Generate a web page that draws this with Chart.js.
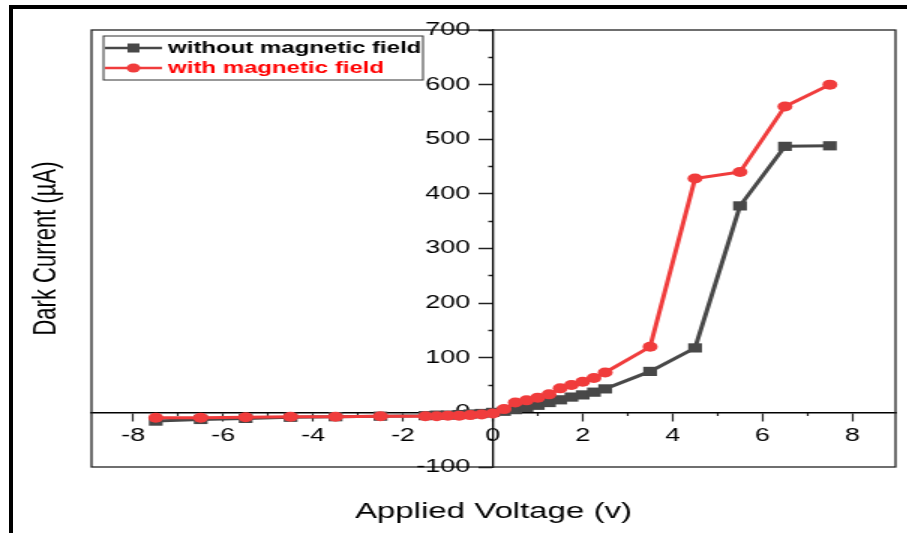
<!DOCTYPE html>
<html>
<head>
<meta charset="utf-8">
<script src="https://cdn.jsdelivr.net/npm/chart.js@4.4.1/dist/chart.umd.min.js"></script>
<style>
  html, body { margin: 0; padding: 0; background: #fff; overflow: hidden; }
  #wrap { position: relative; width: 907px; height: 533px; }
  #frame { position: absolute; left: 9px; top: 5px; right: 0; bottom: 0; border-left: 4px solid #000; border-top: 4px solid #000; }
  /* the original figure is stretched sideways, so draw narrow and widen */
  #chart { position: absolute; left: 0; top: 0; transform: scaleX(1.5); transform-origin: 0 0; }
</style>
</head>
<body>
<div id="wrap">
  <div id="frame"></div>
  <canvas id="chart" width="605" height="533"></canvas>
</div>
<script>
// Applied voltage (V)
const voltages = [-7.5, -6.5, -5.5, -4.5, -3.5, -2.5, -1.5, -1.25, -1, -0.75, -0.5, -0.25, 0,
  0.25, 0.5, 0.75, 1, 1.25, 1.5, 1.75, 2, 2.25, 2.5, 3.5, 4.5, 5.5, 6.5, 7.5];
// Dark current (uA)
const withoutField = [-16, -13, -11, -9, -8, -7, -6, -5, -5, -4, -3, -2, 0,
  2, 5, 9, 13, 18, 23, 28, 32, 37, 43, 75, 118, 378, 487, 488];
const withField = [-10, -10, -9, -8, -8, -7, -7, -7, -6, -6, -5, -4, -2,
  6, 18, 22, 27, 33, 44, 50, 56, 63, 73, 120, 428, 440, 560, 600];

const xTicks = [-8, -6, -4, -2, 0, 2, 4, 6, 8];
const xMinorTicks = [-7, -5, -3, -1, 1, 3, 5, 7];
const yTicks = [-100, 0, 100, 200, 300, 400, 500, 600, 700];
const yMinorTicks = [-50, 50, 150, 250, 350, 450, 550, 650];

const xTitle = 'Applied Voltage (v)';
const yTitle = 'Dark Current (\u00b5A)';

const GREY = '#484848';
const RED = '#f03c3c';
const FONT = '"Liberation Sans", Arial, sans-serif';

const toPoints = ys => voltages.map((v, i) => ({ x: v, y: ys[i] }));

// y labels sit left of the centred axis, drawn here so the gap can be set
const yLabels = {
  id: 'yLabels',
  beforeDatasetsDraw(chart) {
    const { ctx, scales } = chart;
    const axisX = scales.x.getPixelForValue(0);
    ctx.save();
    ctx.fillStyle = '#000';
    ctx.font = '18px ' + FONT;
    ctx.textAlign = 'right';
    ctx.textBaseline = 'middle';
    yTicks.forEach(v => ctx.fillText(String(v), axisX - 15, scales.y.getPixelForValue(v)));
    ctx.restore();
  }
};

const decor = {
  id: 'decor',
  beforeDatasetsDraw(chart) {
    const { ctx, chartArea: a } = chart;
    ctx.save();
    ctx.strokeStyle = '#222';
    ctx.lineWidth = 1.3;
    ctx.strokeRect(a.left, a.top, a.right - a.left, a.bottom - a.top);
    ctx.restore();
  },
  afterDraw(chart) {
    const { ctx, chartArea: a } = chart;
    ctx.save();

    // axis titles
    ctx.fillStyle = '#000';
    ctx.textAlign = 'center';
    ctx.textBaseline = 'middle';
    ctx.font = '22px ' + FONT;
    ctx.fillText(xTitle, (a.left + a.right) / 2, 512);
    ctx.save();
    ctx.translate(31, (a.top + a.bottom) / 2);
    ctx.rotate(-Math.PI / 2);
    ctx.font = '22px ' + FONT;
    ctx.fillText(yTitle, 0, 0);
    ctx.restore();

    // legend box
    const lx = 69, ly = 36, lw = 213, lh = 44;
    ctx.fillStyle = '#fff';
    ctx.fillRect(lx, ly, lw, lh);
    ctx.strokeStyle = '#333';
    ctx.lineWidth = 1;
    ctx.strokeRect(lx, ly, lw, lh);

    const rows = [
      { ds: chart.data.datasets[0], y: 48, text: '#000' },
      { ds: chart.data.datasets[1], y: 68, text: '#ff0000' }
    ];
    rows.forEach(r => {
      ctx.strokeStyle = r.ds.borderColor;
      ctx.lineWidth = 2.5;
      ctx.beginPath();
      ctx.moveTo(70, r.y);
      ctx.lineTo(108, r.y);
      ctx.stroke();
      ctx.fillStyle = r.ds.borderColor;
      if (r.ds.pointStyle === 'rect') {
        ctx.fillRect(85, r.y - 4.5, 8, 9);
      } else {
        ctx.beginPath();
        ctx.arc(89, r.y, 4.5, 0, Math.PI * 2);
        ctx.fill();
      }
      ctx.fillStyle = r.text;
      ctx.textAlign = 'left';
      ctx.font = 'bold 16px ' + FONT;
      ctx.fillText(r.ds.label, 112, r.y + 1);
    });

    ctx.restore();
  }
};

const tickFont = { family: FONT, size: 18 };

new Chart(document.getElementById('chart'), {
  type: 'line',
  data: {
    datasets: [
      {
        label: 'without magnetic field',
        data: toPoints(withoutField),
        borderColor: GREY,
        backgroundColor: GREY,
        borderWidth: 3,
        pointStyle: 'rect',
        pointRadius: 6.5,
        pointBorderWidth: 0,
        order: 1
      },
      {
        label: 'with magnetic field',
        data: toPoints(withField),
        borderColor: RED,
        backgroundColor: RED,
        borderWidth: 3,
        pointStyle: 'circle',
        pointRadius: 5,
        pointBorderWidth: 0,
        order: 0
      }
    ]
  },
  options: {
    responsive: false,
    animation: false,
    layout: { padding: { left: 61, right: 8, top: 30, bottom: 66 } },
    plugins: { legend: { display: false }, tooltip: { enabled: false } },
    scales: {
      x: {
        type: 'linear', min: -8.93, max: 8.96, position: { y: 0 },
        afterFit: s => { s.height = 0; },
        afterBuildTicks: s => { s.ticks = xTicks.map(v => ({ value: v })); },
        grid: { drawOnChartArea: false, tickLength: 8, tickWidth: 1.2, tickColor: '#222' },
        border: { color: '#000', width: 1.5 },
        ticks: { color: '#000', font: tickFont, padding: 5, maxRotation: 0, autoSkip: false }
      },
      xMinor: {
        type: 'linear', axis: 'x', min: -8.93, max: 8.96, position: { y: 0 },
        afterFit: s => { s.height = 0; },
        afterBuildTicks: s => { s.ticks = xMinorTicks.map(v => ({ value: v })); },
        grid: { drawOnChartArea: false, tickLength: 4, tickWidth: 1.2, tickColor: '#222' },
        border: { display: false },
        ticks: { display: false }
      },
      y: {
        type: 'linear', min: -100, max: 700, position: { x: 0 },
        afterFit: s => { s.width = 0; },
        afterBuildTicks: s => { s.ticks = yTicks.map(v => ({ value: v })); },
        grid: { drawOnChartArea: false, tickLength: 9, tickWidth: 1.5, tickColor: '#222' },
        border: { color: '#000', width: 1.3 },
        ticks: { display: false }
      },
      yMinor: {
        type: 'linear', axis: 'y', min: -100, max: 700, position: { x: 0 },
        afterFit: s => { s.width = 0; },
        afterBuildTicks: s => { s.ticks = yMinorTicks.map(v => ({ value: v })); },
        grid: { drawOnChartArea: false, tickLength: 3.5, tickWidth: 1.5, tickColor: '#222' },
        border: { display: false },
        ticks: { display: false }
      }
    }
  },
  plugins: [decor, yLabels]
});
</script>
</body>
</html>
